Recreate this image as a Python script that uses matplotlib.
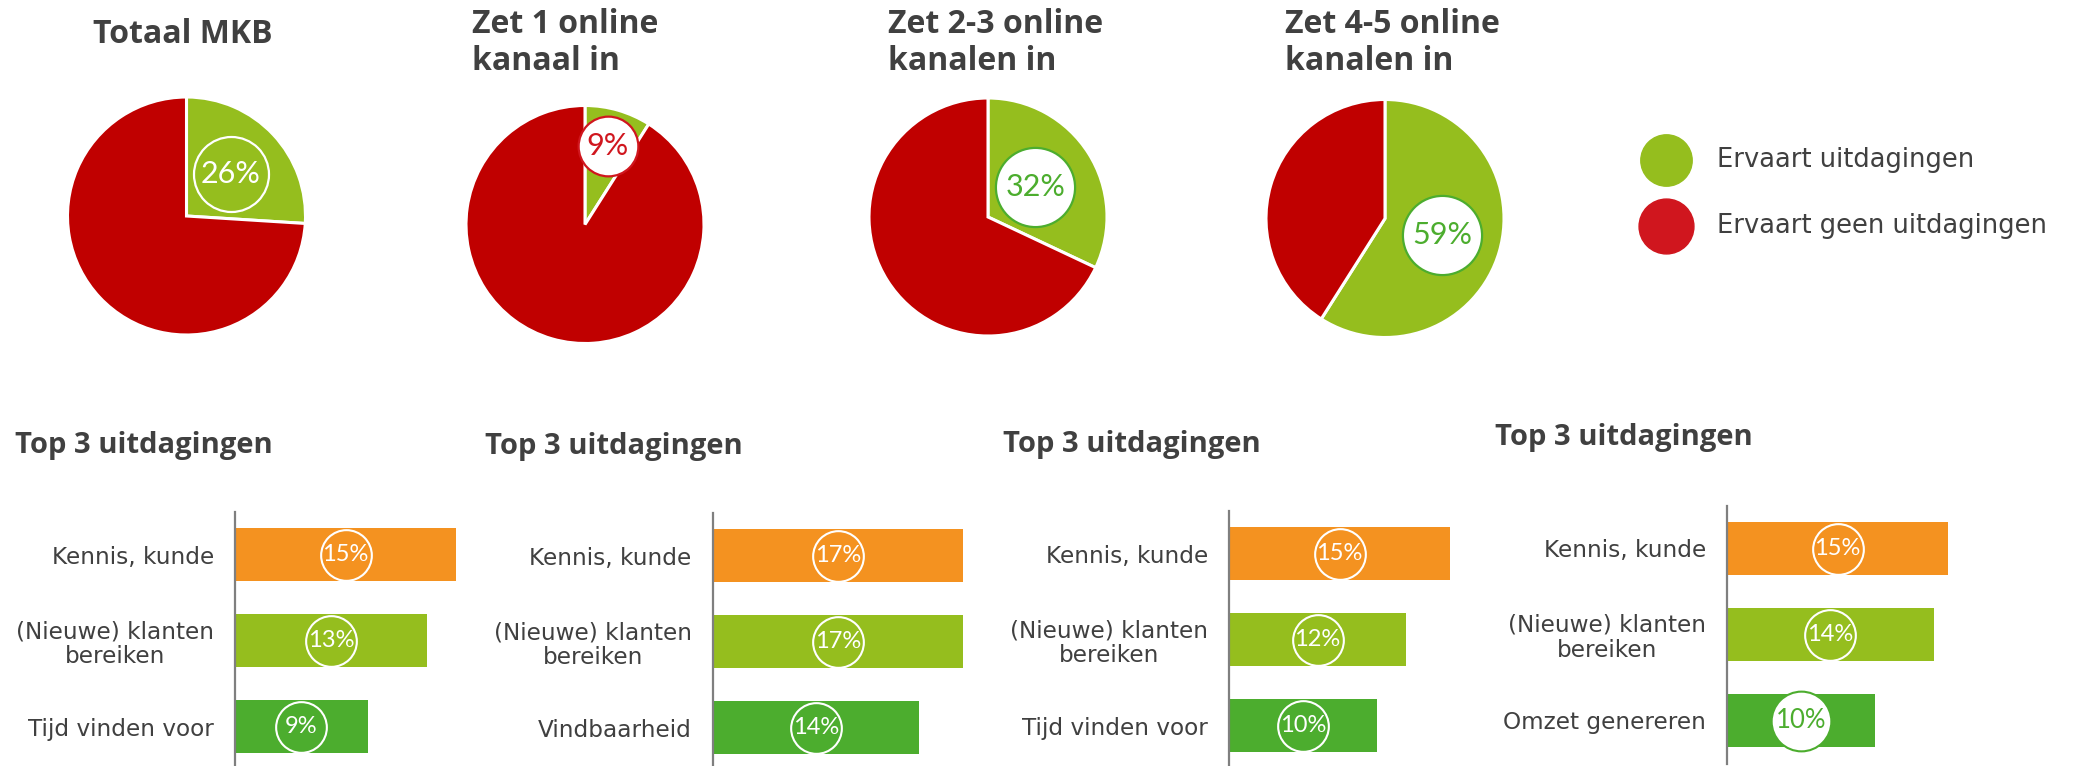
import matplotlib
matplotlib.use("Agg")
import matplotlib.pyplot as plt
import numpy as np

W, H, DPI = 2074, 766, 100

# ---- data -------------------------------------------------------------
pie_titles = ["Totaal MKB", "Zet 1 online\nkanaal in",
              "Zet 2-3 online\nkanalen in", "Zet 4-5 online\nkanalen in"]
challenged_pct = [26, 9, 32, 59]
legend_labels = ["Ervaart uitdagingen", "Ervaart geen uitdagingen"]

bar_title = "Top 3 uitdagingen"
cats_totaal = ["Kennis, kunde", "(Nieuwe) klanten\nbereiken", "Tijd vinden voor"]
cats_1_kanaal = ["Kennis, kunde", "(Nieuwe) klanten\nbereiken", "Vindbaarheid"]
cats_2_3_kanalen = ["Kennis, kunde", "(Nieuwe) klanten\nbereiken", "Tijd vinden voor"]
cats_4_5_kanalen = ["Kennis, kunde", "(Nieuwe) klanten\nbereiken", "Omzet genereren"]
vals_totaal = [15, 13, 9]
vals_1_kanaal = [17, 17, 14]
vals_2_3_kanalen = [15, 12, 10]
vals_4_5_kanalen = [15, 14, 10]

# ---- styling ----------------------------------------------------------
GREEN = "#95BE1E"
RED = "#C00000"
BRIGHT_RED = "#D0161E"
ORANGE = "#F49220"
DARK_GREEN = "#4CAD2E"
TEXT = "#404040"
AXIS_GREY = "#7F7F7F"
TITLE_FONT = ["Open Sans", "DejaVu Sans"]
BODY_FONT = ["DejaVu Sans"]
NUM_FONT = ["Lato", "DejaVu Sans"]

plt.rcParams["font.family"] = BODY_FONT

fig = plt.figure(figsize=(W / DPI, H / DPI), dpi=DPI)
fig.patch.set_facecolor("white")


def px_axes(x0, y0, w, h, **kw):
    """Axes placed by pixel box (top-left origin)."""
    return fig.add_axes([x0 / W, 1 - (y0 + h) / H, w / W, h / H], **kw)


def fig_text(x, y, s, **kw):
    return fig.text(x / W, 1 - y / H, s, **kw)


# ---- pies -------------------------------------------------------------
pie_centers = [(186.5, 216), (585, 224.5), (988, 217), (1385, 218.5)]
pie_radius = 119
label_dist = [0.51, 0.69, 0.47, 0.50]
label_ms = [54, 43, 57, 57]
label_face = ["none", "white", "white", "white"]
label_edge = ["white", BRIGHT_RED, DARK_GREEN, DARK_GREEN]
label_color = ["white", BRIGHT_RED, DARK_GREEN, DARK_GREEN]

for i, (pct, (cx, cy)) in enumerate(zip(challenged_pct, pie_centers)):
    s = pie_radius * 1.1
    ax = px_axes(cx - s, cy - s, 2 * s, 2 * s)
    ax.pie([pct, 100 - pct], colors=[GREEN, RED], startangle=90,
           counterclock=False, radius=1,
           wedgeprops=dict(edgecolor="white", linewidth=2.2))
    ax.set_xlim(-1.1, 1.1)
    ax.set_ylim(-1.1, 1.1)
    ax.set_aspect("equal")
    ax.axis("off")
    mid = np.deg2rad(90 - pct * 3.6 / 2)
    lx, ly = label_dist[i] * np.cos(mid), label_dist[i] * np.sin(mid)
    ax.plot([lx], [ly], marker="o", ms=label_ms[i], mfc=label_face[i],
            mec=label_edge[i], mew=1.6, zorder=5)
    ax.text(lx, ly, f"{pct}%", ha="center", va="center", fontsize=22,
            color=label_color[i], family=NUM_FONT, weight="normal",
            zorder=6)

# pie titles
fig_text(183, 42.7, pie_titles[0], ha="center", va="baseline", fontsize=23,
         color=TEXT, weight="bold", family=TITLE_FONT)
for title, x0 in zip(pie_titles[1:], [472, 888, 1285]):
    for j, line in enumerate(title.split("\n")):
        fig_text(x0, 33.3 + 36.5 * j, line, ha="left", va="baseline",
                 fontsize=23, color=TEXT, weight="bold", family=TITLE_FONT)

# ---- legend -----------------------------------------------------------
overlay = px_axes(0, 0, W, H)
overlay.set_xlim(0, W)
overlay.set_ylim(H, 0)
overlay.axis("off")
overlay.set_zorder(-1)
for (yy, col, ms), lab in zip([(160, GREEN, 37), (226, BRIGHT_RED, 39.5)],
                              legend_labels):
    overlay.plot([1666], [yy], marker="o", ms=ms, mfc=col, mec=col)
    overlay.text(1717, yy, lab, ha="left", va="center", fontsize=18.5,
                 color=TEXT)

# ---- bar panels -------------------------------------------------------
bar_cats = [cats_totaal, cats_1_kanaal, cats_2_3_kanalen, cats_4_5_kanalen]
bar_vals = [vals_totaal, vals_1_kanaal, vals_2_3_kanalen, vals_4_5_kanalen]
axis_x = [235, 712.5, 1229, 1727]
first_row_y = [554.5, 555.7, 553.5, 548.5]
title_pos = [(15, 452.7), (485, 454), (1003, 451.7), (1495, 445)]
row_gap = 86
px_per_pct = 14.75
bar_colors = [ORANGE, GREEN, DARK_GREEN]

for k in range(4):
    top = first_row_y[k] - 0.5 * row_gap
    ax = px_axes(axis_x[k], top, 20 * px_per_pct, 3 * row_gap)
    ax.set_xlim(0, 20)
    ax.set_ylim(2.5, -0.5)
    ax.barh(range(3), bar_vals[k], height=0.62, color=bar_colors, zorder=2)
    for sp in ["top", "right", "bottom"]:
        ax.spines[sp].set_visible(False)
    ax.spines["left"].set_color(AXIS_GREY)
    ax.spines["left"].set_linewidth(1.6)
    ax.spines["left"].set_zorder(3)
    ax.set_xticks([])
    ax.set_yticks(range(3))
    ax.set_yticklabels(bar_cats[k], fontsize=16.7, color=TEXT,
                       multialignment="center", linespacing=1.1)
    ax.tick_params(axis="y", length=0, pad=15)
    ax.patch.set_alpha(0)
    for i, v in enumerate(bar_vals[k]):
        highlight = (k == 3 and i == 2)
        ax.plot([v / 2], [i], marker="o",
                ms=43 if highlight else 36.5,
                mfc="white" if highlight else "none",
                mec=DARK_GREEN if highlight else "white",
                mew=1.5, zorder=4, clip_on=False)
        ax.text(v / 2, i, f"{v}%", ha="center", va="center",
                fontsize=18.5 if highlight else 17,
                color=DARK_GREEN if highlight else "white",
                family=NUM_FONT, weight="normal", zorder=5)
    fig_text(title_pos[k][0], title_pos[k][1], bar_title, ha="left",
             va="baseline", fontsize=21, color=TEXT, weight="bold",
             family=TITLE_FONT)

fig.savefig("out.png", dpi=DPI, facecolor="white")
